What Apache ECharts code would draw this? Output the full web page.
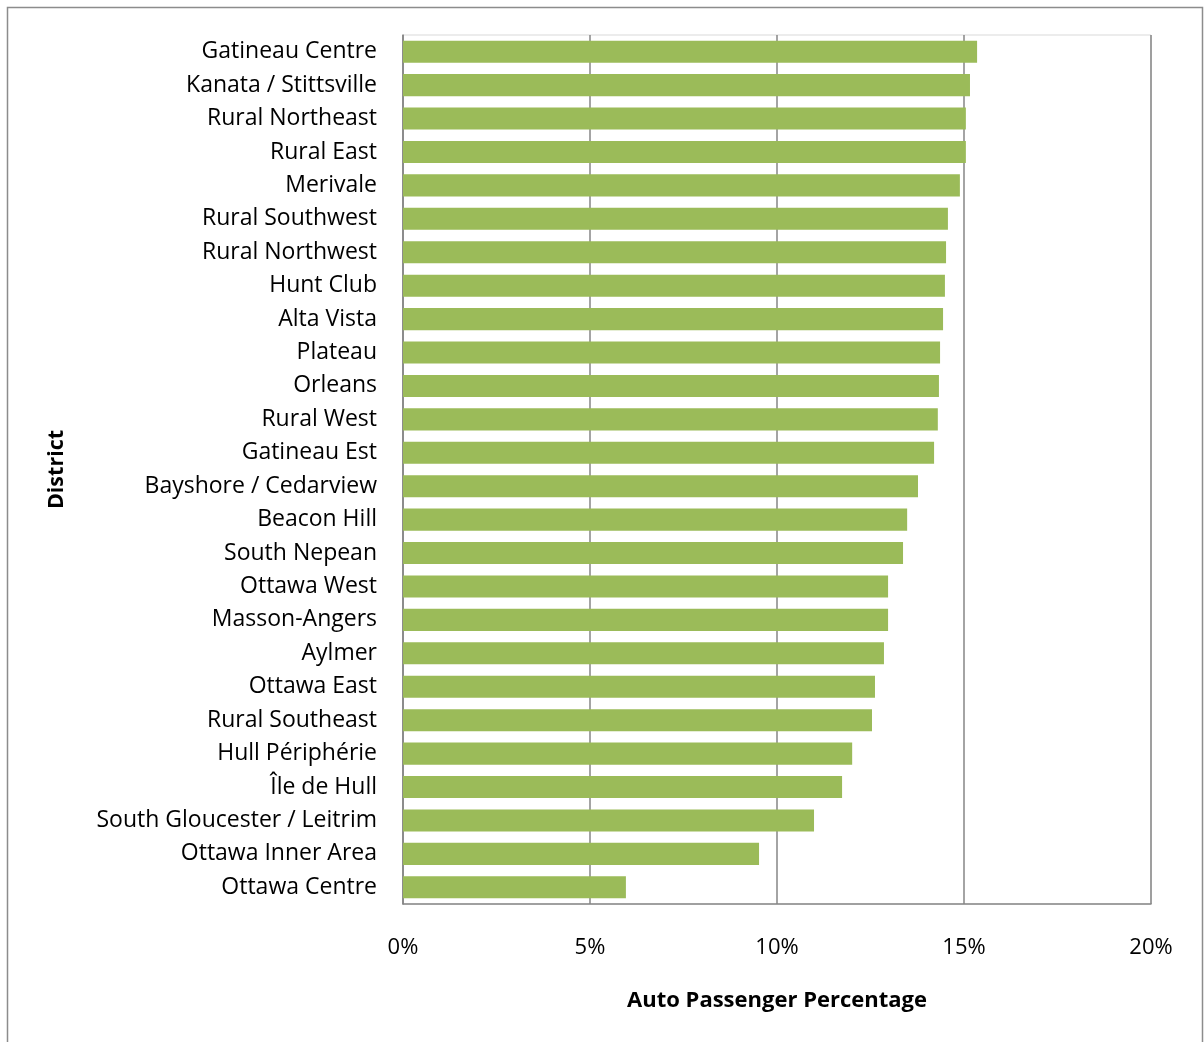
<!DOCTYPE html>
<html><head><meta charset="utf-8">
<script src="https://cdn.jsdelivr.net/npm/echarts@6/dist/echarts.min.js"></script>
<style>html,body{margin:0;padding:0;background:#fff}#c{width:1204px;height:1042px}</style>
</head><body><div id="c"></div>
<script>
const districts = ["Gatineau Centre","Kanata / Stittsville","Rural Northeast","Rural East","Merivale","Rural Southwest","Rural Northwest","Hunt Club","Alta Vista","Plateau","Orleans","Rural West","Gatineau Est","Bayshore / Cedarview","Beacon Hill","South Nepean","Ottawa West","Masson-Angers","Aylmer","Ottawa East","Rural Southeast","Hull Périphérie","Île de Hull","South Gloucester / Leitrim","Ottawa Inner Area","Ottawa Centre"];
const autoPassengerPct = [15.35,15.16,15.05,15.05,14.89,14.57,14.52,14.49,14.44,14.36,14.33,14.30,14.20,13.77,13.48,13.37,12.97,12.97,12.86,12.62,12.54,12.01,11.74,10.99,9.52,5.96];
const xTicks = {min:0, max:20, interval:5};

const chart = echarts.init(document.getElementById('c'), null, {renderer:'canvas'});
const font = "'Open Sans', 'DejaVu Sans', sans-serif";
chart.setOption({
  animation:false,
  backgroundColor:'#fff',
  graphic:[{type:'rect', shape:{x:7.5,y:7.5,width:1195,height:1050}, style:{fill:'none', stroke:'#8c8c8c', lineWidth:1.5}, silent:true, z:-1}],
  grid:{left:403, top:35, width:748, height:869, show:true, borderColor:'#d9d9d9', borderWidth:1, containLabel:false},
  xAxis:{type:'value', min:xTicks.min, max:xTicks.max, interval:xTicks.interval,
    axisLine:{show:true, lineStyle:{color:'#868686', width:1.5}},
    axisTick:{show:false},
    splitLine:{show:true, lineStyle:{color:'#868686', width:1.5}},
    axisLabel:{formatter:v=>v+'%', fontFamily:font, fontSize:22, color:'#000', margin:33},
    name:'Auto Passenger Percentage', nameLocation:'middle', nameGap:86,
    nameTextStyle:{fontFamily:font, fontSize:22, fontWeight:'bold', color:'#000'}
  },
  yAxis:{type:'category', data:districts, inverse:true,
    axisLine:{show:true, lineStyle:{color:'#868686', width:1.5}},
    axisTick:{show:false},
    axisLabel:{fontFamily:font, fontSize:23, color:'#000', margin:26, padding:[6,0,0,0]},
    name:'District', nameLocation:'middle', nameGap:335, nameRotate:90,
    nameTextStyle:{fontFamily:font, fontSize:21.5, fontWeight:'bold', color:'#000'}
  },
  series:[{type:'bar', data:autoPassengerPct, barCategoryGap:'34%',
    itemStyle:{color:'#9bbb59'}}]
});
</script></body></html>
